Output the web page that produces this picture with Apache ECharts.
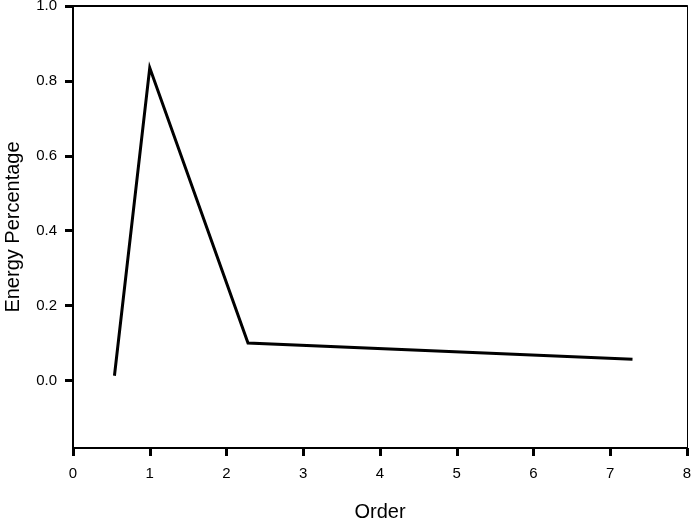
<!DOCTYPE html>
<html>
<head>
<meta charset="utf-8">
<script src="https://cdn.jsdelivr.net/npm/echarts@6/dist/echarts.min.js"></script>
<style>
  html, body {margin: 0; padding: 0; background: #fff;}
  #chart {width: 692px; height: 518px;}
</style>
</head>
<body>
<div id="chart"></div>
<script>
// data
const orders = [0.54, 1.0, 2.28, 7.29];
const energy = [0.013, 0.835, 0.10, 0.057];
const xTicks = [0, 1, 2, 3, 4, 5, 6, 7, 8];
const yTicks = [0, 0.2, 0.4, 0.6, 0.8, 1.0];

const font = 'Liberation Sans, Arial, sans-serif';
const chart = echarts.init(document.getElementById('chart'));

chart.setOption({
  animation: false,
  grid: {left: 73, right: 5, top: 6, bottom: 70, containLabel: false, outerBoundsMode: 'none'},
  xAxis: [
    {
      type: 'value',
      min: 0,
      max: 8,
      interval: 1,
      name: 'Order',
      nameLocation: 'middle',
      nameGap: 54,
      nameTextStyle: {color: '#000', fontFamily: font, fontSize: 20},
      axisLine: {show: true, onZero: false, lineStyle: {color: '#000', width: 2}},
      axisTick: {show: true, inside: false, length: 8, lineStyle: {color: '#000', width: 3}},
      axisLabel: {
        color: '#000', fontFamily: font, fontSize: 15, margin: 18
      },
      splitLine: {show: false}
    },
    {
      type: 'value', position: 'top', min: 0, max: 8,
      axisLine: {show: true, onZero: false, lineStyle: {color: '#000', width: 2}},
      axisTick: {show: false}, axisLabel: {show: false}, splitLine: {show: false}
    }
  ],
  yAxis: [
    {
      type: 'value',
      min: -0.18,
      max: 1.0,
      name: 'Energy Percentage',
      nameLocation: 'middle',
      nameGap: 50,
      nameTextStyle: {color: '#000', fontFamily: font, fontSize: 20},
      axisLine: {show: true, onZero: false, lineStyle: {color: '#000', width: 2}},
      axisTick: {show: true, inside: false, length: 8, customValues: yTicks, lineStyle: {color: '#000', width: 3}},
      axisLabel: {
        color: '#000', fontFamily: font, fontSize: 15, margin: 16,
        customValues: yTicks,
        formatter: v => v.toFixed(1)
      },
      splitLine: {show: false}
    },
    {
      type: 'value', position: 'right', min: -0.18, max: 1.0,
      axisLine: {show: true, onZero: false, lineStyle: {color: '#000', width: 1}},
      axisTick: {show: false}, axisLabel: {show: false}, splitLine: {show: false}
    }
  ],
  series: [
    {
      type: 'line',
      data: orders.map((x, i) => [x, energy[i]]),
      showSymbol: false,
      symbol: 'none',
      lineStyle: {color: '#000', width: 3, join: 'miter'},
      silent: true
    }
  ]
});
</script>
</body>
</html>
